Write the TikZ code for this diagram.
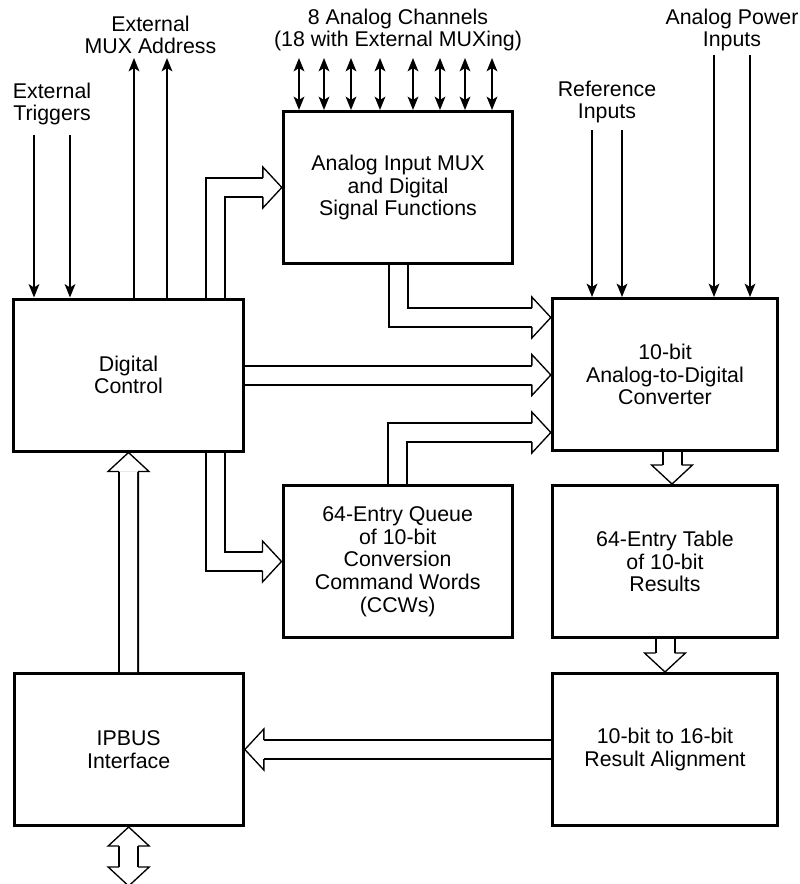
\documentclass[tikz,border=0pt]{standalone}
\usepackage{fontspec}
\setmainfont{Liberation Sans}
\usetikzlibrary{positioning, arrows.meta, calc}

% hollow head of a bus arrow: tip, direction
\newcommand{\bushead}[2]{%
  \path[bushd, shift={(#1)}, rotate=#2] (-19,9.5) -- (-19,20.5) -- (0,0) -- (-19,-20.5) -- (-19,-9.5);}

\begin{document}
\begin{tikzpicture}[x=0.75pt, y=-0.75pt,
    blk/.style={draw, line width=2.25pt, minimum width=172pt, minimum height=114pt, align=center, font=\fontsize{16}{17}\selectfont},
    rblk/.style={blk, minimum width=169pt},
    lbl/.style={align=center, inner sep=0pt, font=\fontsize{16}{17}\selectfont},
    sig/.style={line width=1.5pt, -{Stealth[length=10pt, width=8pt, inset=2.5pt]}},
    chan/.style={line width=1.5pt, {Stealth[length=10pt, width=8pt, inset=2.5pt]}-{Stealth[length=10pt, width=8pt, inset=2.5pt]}},
    bus/.style={line width=1.5pt, double=white, double distance=12.75pt, shorten >=14.25pt},
    bushd/.style={draw, fill=white, line width=1pt, line join=miter}]
    \useasboundingbox (0,0) rectangle (799,884);

    % Blocs
    \node[blk] (dc) at (128.5,375) {Digital\\Control};
    \node[blk] (mux) at (398,187.5) {Analog Input MUX\\and Digital\\Signal Functions};
    \node[rblk] (adc) at (665,374.5) {10-bit\\Analog-to-Digital\\Converter};
    \node[rblk] (table) [below=24pt of adc] {64-Entry Table\\of 10-bit\\Results};
    \node[rblk] (align) [below=24.75pt of table] {10-bit to 16-bit\\Result Alignment};
    \node[blk] (queue) [left=27.75pt of table] {64-Entry Queue\\of 10-bit\\Conversion\\Command Words\\(CCWs)};
    \node[blk] (ipbus) [left=229.5pt of align] {IPBUS\\Interface};

    % Textes
    \node[lbl] (trig) at (52,104) {External\\Triggers};
    \node[lbl] (maddr) at (150.5,35) {External\\MUX Address};
    \node[lbl] (chan) at (398,30) {8 Analog Channels\\(18 with External MUXing)};
    \node[lbl] (refin) at (607,102) {Reference\\Inputs};
    \node[lbl] (pwr) at (732,30) {Analog Power\\Inputs};

    % Signaux
    \coordinate (t1) at (34,135);
    \coordinate (t2) at (70,135);
    \coordinate (m1) at (134,58);
    \coordinate (m2) at (167,58);
    \coordinate (r1) at (592,130);
    \coordinate (r2) at (622,130);
    \coordinate (p1) at (714,55);
    \coordinate (p2) at (750,55);
    \foreach \c in {t1,t2}
        \draw[sig] (\c) -- (\c |- dc.north);
    \foreach \c in {m1,m2}
        \draw[sig] (dc.north -| \c) -- (\c);
    \foreach \c in {r1,r2,p1,p2}
        \draw[sig] (\c) -- (\c |- adc.north);
    \foreach \x [count=\i] in {299,324,351,380,413,440,465,492} {
        \coordinate (ch\i) at (\x,58);
        \draw[chan] (ch\i) -- (ch\i |- mux.north);
    }

    % Bus
    \coordinate (a1) at ($(adc.west)+(0,-57)$);
    \coordinate (a2) at (dc.east -| adc.west);
    \coordinate (a3) at ($(adc.west)+(0,58)$);
    \coordinate (io) at ($(ipbus.south)+(0,59)$);

    \draw[bus] ($(dc.north east)+(-29.5,0)$) |- (mux.west);
    \bushead{mux.west}{0}
    \draw[bus] (mux.south) |- (a1);
    \bushead{a1}{0}
    \draw[bus] (dc.east) -- (a2);
    \bushead{a2}{0}
    \draw[bus] (queue.north) |- (a3);
    \bushead{a3}{0}
    \draw[bus] ($(dc.south east)+(-29.5,0)$) |- (queue.west);
    \bushead{queue.west}{0}
    \draw[bus] ($(adc.south)+(7,0)$) -- ($(table.north)+(7,0)$);
    \bushead{$(table.north)+(7,0)$}{-90}
    \draw[bus] (table.south) -- (align.north);
    \bushead{align.north}{-90}
    \draw[bus] (align.west) -- (align.west -| ipbus.east);
    \bushead{align.west -| ipbus.east}{180}
    \draw[bus] (ipbus.north) -- (dc.south);
    \bushead{dc.south}{90}
    \draw[bus, shorten <=14.25pt] (ipbus.south) -- (io);
    \bushead{ipbus.south}{90}
    \bushead{io}{-90}
\end{tikzpicture}
\end{document}
